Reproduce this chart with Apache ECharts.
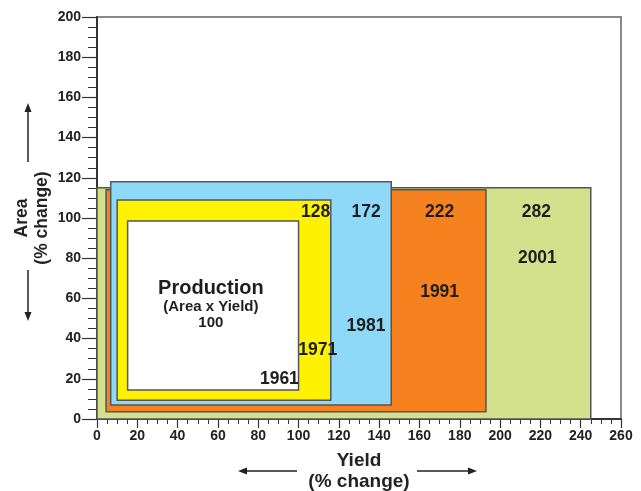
<!DOCTYPE html>
<html>
<head>
<meta charset="utf-8">
<script src="https://cdn.jsdelivr.net/npm/echarts@6/dist/echarts.min.js"></script>
<style>
html,body{margin:0;padding:0;background:#fff;}
#main{width:641px;height:491px;}
</style>
</head>
<body>
<div id="main"></div>
<script>
// rectangles: [x0, y0, x1, y1] in % change, drawn back to front
var rectYears = ['2001', '1991', '1981', '1971', '1961'];
var rectBoxes = [
	[0, 0, 245, 115],
	[4.5, 3.6, 193, 114],
	[6.8, 7, 146, 118],
	[10, 9.3, 116, 109],
	[15.2, 14.4, 100, 98.5]
];
var rectColors = ['#d3e18d', '#f5821f', '#8ed8f8', '#fff200', '#ffffff'];

// text marks inside the plot
var labelText = ['128', '172', '222', '282', '2001', '1991', '1981', '1971', '1961', 'Production', '(Area x Yield)', '100'];
var labelX = [108.5, 133.5, 170, 218, 218.5, 170, 133.5, 109.5, 90.5, 56.5, 56.5, 56.5];
var labelY = [103, 103, 103, 103, 80, 63, 46, 34, 20, 65, 56, 47.8];
var labelSize = [17.5, 17.5, 17.5, 17.5, 17.5, 17.5, 17.5, 17.5, 17.5, 20, 15, 15];

var xTicks = [0, 260, 20];
var yTicks = [0, 200, 20];

var font = 'Liberation Sans, Arial, sans-serif';
var myChart = echarts.init(document.getElementById('main'));

var labelData = [];
for (var i = 0; i < labelText.length; i++) {
	labelData.push({
		value: [labelX[i], labelY[i]],
		label: {
			show: true,
			position: 'inside',
			formatter: labelText[i],
			fontSize: labelSize[i],
			fontWeight: 'bold',
			fontFamily: font,
			color: '#1e1e1e',
			opacity: 1,
			textBorderWidth: 0
		}
	});
}

function arrow(x1, y1, x2, y2) {
	// line from (x1,y1) to (x2,y2), head at the second point
	var ang = Math.atan2(y2 - y1, x2 - x1);
	var hl = 9, hw = 3.5;
	var bx = x2 - hl * Math.cos(ang), by = y2 - hl * Math.sin(ang);
	var px = -Math.sin(ang) * hw, py = Math.cos(ang) * hw;
	return [
		{type: 'line', shape: {x1: x1, y1: y1, x2: bx, y2: by}, style: {stroke: '#222', lineWidth: 1.5}},
		{type: 'polygon', shape: {points: [[x2, y2], [bx + px, by + py], [bx - px, by - py]]}, style: {fill: '#222'}}
	];
}

var option = {
	animation: false,
	grid: {
		left: 97, right: 20, top: 17, bottom: 72,
		outerBoundsMode: 'none', containLabel: false,
		show: true, borderColor: '#8a8a8a', borderWidth: 2
	},
	xAxis: {
		type: 'value', min: xTicks[0], max: xTicks[1], interval: xTicks[2],
		name: 'Yield\n(% change)', nameLocation: 'middle', nameGap: 31, nameMoveOverlap: false,
		nameTextStyle: {fontSize: 19, fontWeight: 'bold', fontFamily: font, color: '#222', lineHeight: 21},
		axisLine: {lineStyle: {color: '#333', width: 2}},
		axisTick: {length: 9, lineStyle: {color: '#333', width: 1.2}},
		minorTick: {show: true, splitNumber: 4, length: 5, lineStyle: {color: '#333', width: 1}},
		axisLabel: {fontSize: 14, fontWeight: 'bold', fontFamily: font, color: '#222', margin: 10},
		splitLine: {show: false}
	},
	yAxis: {
		type: 'value', min: yTicks[0], max: yTicks[1], interval: yTicks[2],
		name: 'Area\n(% change)', nameLocation: 'middle', nameGap: 45, nameRotate: 90, nameMoveOverlap: false,
		nameTextStyle: {fontSize: 17.5, fontWeight: 'bold', fontFamily: font, color: '#222', lineHeight: 20},
		axisLine: {lineStyle: {color: '#333', width: 2}},
		axisTick: {length: 15, lineStyle: {color: '#333', width: 1.2}},
		minorTick: {show: true, splitNumber: 4, length: 9, lineStyle: {color: '#333', width: 1}},
		axisLabel: {fontSize: 14, fontWeight: 'bold', fontFamily: font, color: '#222', margin: 16},
		splitLine: {show: false}
	},
	graphic: [].concat(
		arrow(28, 162, 28, 103),
		arrow(28, 270, 28, 321),
		arrow(297, 471, 238, 471),
		arrow(417, 471, 477, 471)
	),
	series: [
		{
			type: 'custom',
			data: rectBoxes.map(function (b, i) { return b.concat([i]); }),
			encode: {x: [0, 2], y: [1, 3]},
			renderItem: function (params, api) {
				var p0 = api.coord([api.value(0), api.value(1)]);
				var p1 = api.coord([api.value(2), api.value(3)]);
				return {
					type: 'rect',
					shape: {x: p0[0], y: p1[1], width: p1[0] - p0[0], height: p0[1] - p1[1]},
					style: {fill: rectColors[api.value(4)], stroke: '#555', lineWidth: 1.5}
				};
			},
			z: 1
		},
		{
			type: 'scatter',
			symbolSize: 0,
			itemStyle: {opacity: 1},
			data: labelData,
			z: 5
		}
	]
};

myChart.setOption(option, true);
</script>
</body>
</html>
